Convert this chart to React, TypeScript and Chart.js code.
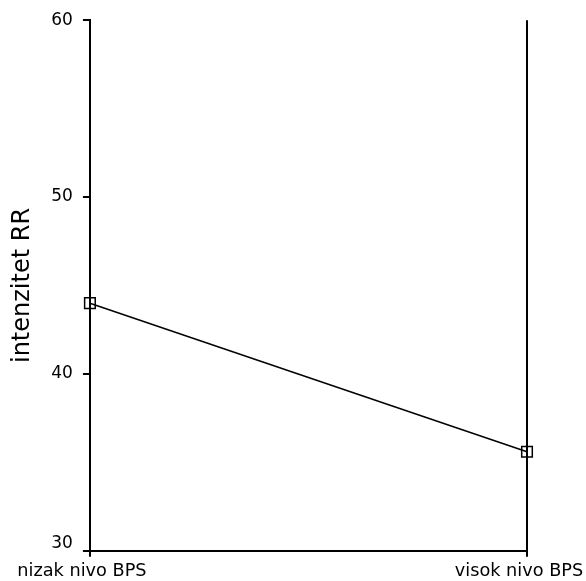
import React, { useEffect, useRef } from "react";
import { Chart, registerables } from "chart.js";

Chart.register(...registerables);

const categories = ["nizak nivo BPS", "visok nivo BPS"];
const values = [44.0, 35.6];
const yTicks = [30, 40, 50, 60];
const yTitle = "intenzitet RR";

export default function App() {
  const ref = useRef<HTMLCanvasElement>(null);
  useEffect(() => {
    document.body.style.margin = "0";
    const ctx = ref.current!;
    const font = "'DejaVu Sans', Verdana, sans-serif";
    const yMin = yTicks[0];
    const chart = new Chart(ctx, {
      type: "line",
      data: {
        labels: categories,
        datasets: [
          {
            data: values,
            borderColor: "#000",
            borderWidth: 1.5,
            pointStyle: "rect",
            pointRadius: 7.5,
            pointBorderWidth: 1.5,
            pointBorderColor: "#000",
            pointBackgroundColor: "transparent",
            tension: 0,
          },
        ],
      },
      options: {
        animation: false,
        responsive: false,
        devicePixelRatio: 1,
        layout: { padding: { top: 19, right: 59, left: 0, bottom: -5 } },
        plugins: { legend: { display: false }, tooltip: { enabled: false } },
        scales: {
          x: {
            offset: false,
            afterFit: (scale: any) => {
              scale.paddingLeft = 0;
              scale.paddingRight = 0;
            },
            grid: {
              color: "#000",
              lineWidth: 2,
              drawOnChartArea: true,
              tickLength: 6,
            },
            border: { color: "#000", width: 2 },
            ticks: {
              color: "#000",
              font: { family: font, size: 17.7 },
              labelOffset: -8,
              padding: 4,
              maxRotation: 0,
              autoSkip: false,
            },
          },
          y: {
            min: 30,
            max: 60,
            afterBuildTicks: (axis: any) => {
              axis.ticks = yTicks.map((v) => ({ value: v }));
            },
            grid: {
              color: "#000",
              lineWidth: 2,
              drawOnChartArea: false,
              tickLength: 7,
            },
            border: { color: "#000", width: 2 },
            ticks: {
              color: "#000",
              font: (c: any) => ({
                family: font,
                size: 17,
                lineHeight: c.tick && c.tick.value === yMin ? "14px" : 1.2,
              }),
              callback: (v: any) => (v === yMin ? [String(v), ""] : String(v)),
              padding: 10,
            },
            title: {
              display: true,
              text: yTitle,
              color: "#000",
              font: { family: font, size: 24 },
              padding: { top: 8, bottom: 4.5 },
            },
          },
        },
      },
    });
    return () => chart.destroy();
  }, []);
  return (
    <div style={{ width: 586, height: 581 }}>
      <canvas ref={ref} width={586} height={581} />
    </div>
  );
}
